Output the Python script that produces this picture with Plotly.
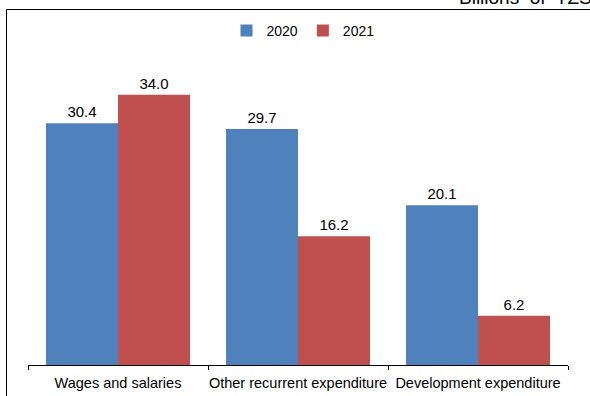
import plotly.graph_objects as go

categories = ["Wages and salaries", "Other recurrent expenditure", "Development expenditure"]
series_names = ["2020", "2021"]
values_2020 = [30.4, 29.7, 20.1]
values_2021 = [34.0, 16.2, 6.2]
unit_label = "Billions  of  TZS"

colors = ["#4F81BD", "#C0504D"]

W, H = 590, 396
L, R, T, B = 28, 22, 47, 31
plot_w = W - L - R
plot_h = H - T - B

def px_x(x):
    return (x - L) / plot_w

def px_y(y):
    return (H - B - y) / plot_h

fig = go.Figure()
for name, vals, col in zip(series_names, [values_2020, values_2021], colors):
    fig.add_trace(go.Bar(
        name=name, x=categories, y=vals,
        marker=dict(color=col, line=dict(width=0)),
        text=[f"{v:.1f}" for v in vals],
        textposition="outside",
        textfont=dict(family="Liberation Sans, Arial", size=15, color="#000000"),
        cliponaxis=False,
    ))

fig.update_layout(
    width=W, height=H,
    margin=dict(l=L, r=R, t=T, b=B, autoexpand=False),
    paper_bgcolor="white", plot_bgcolor="white",
    barmode="group", bargap=0.2, bargroupgap=0,
    uniformtext=dict(minsize=15, mode="show"),
    font=dict(family="Liberation Sans, Arial", size=14, color="#000000"),
    showlegend=True,
    legend=dict(orientation="h", x=px_x(303), xanchor="center", y=px_y(31), yanchor="middle",
                font=dict(size=14), itemwidth=30, bgcolor="rgba(0,0,0,0)"),
    xaxis=dict(showline=True, linecolor="#000000", linewidth=1,
               ticks="outside", ticklen=4, tickcolor="#000000", tickson="boundaries",
               ticklabelstandoff=5, tickangle=0, automargin=False,
               showgrid=False, tickfont=dict(size=14.5)),
    yaxis=dict(range=[0, plot_h / 7.95], visible=False, showgrid=False, zeroline=False,
               automargin=False),
    shapes=[
        dict(type="line", xref="paper", yref="paper", x0=px_x(6.5), x1=px_x(6.5),
             y0=px_y(9.5), y1=px_y(H + 5), line=dict(color="#000000", width=1)),
        dict(type="line", xref="paper", yref="paper", x0=px_x(6.5), x1=px_x(W + 5),
             y0=px_y(9.5), y1=px_y(9.5), line=dict(color="#000000", width=1)),
    ],
    annotations=[
        dict(text=unit_label, xref="paper", yref="paper", x=px_x(457), y=px_y(-3),
             xanchor="left", yanchor="middle", showarrow=False,
             font=dict(size=19, color="#000000")),
    ],
)

fig.write_html("out.html")
